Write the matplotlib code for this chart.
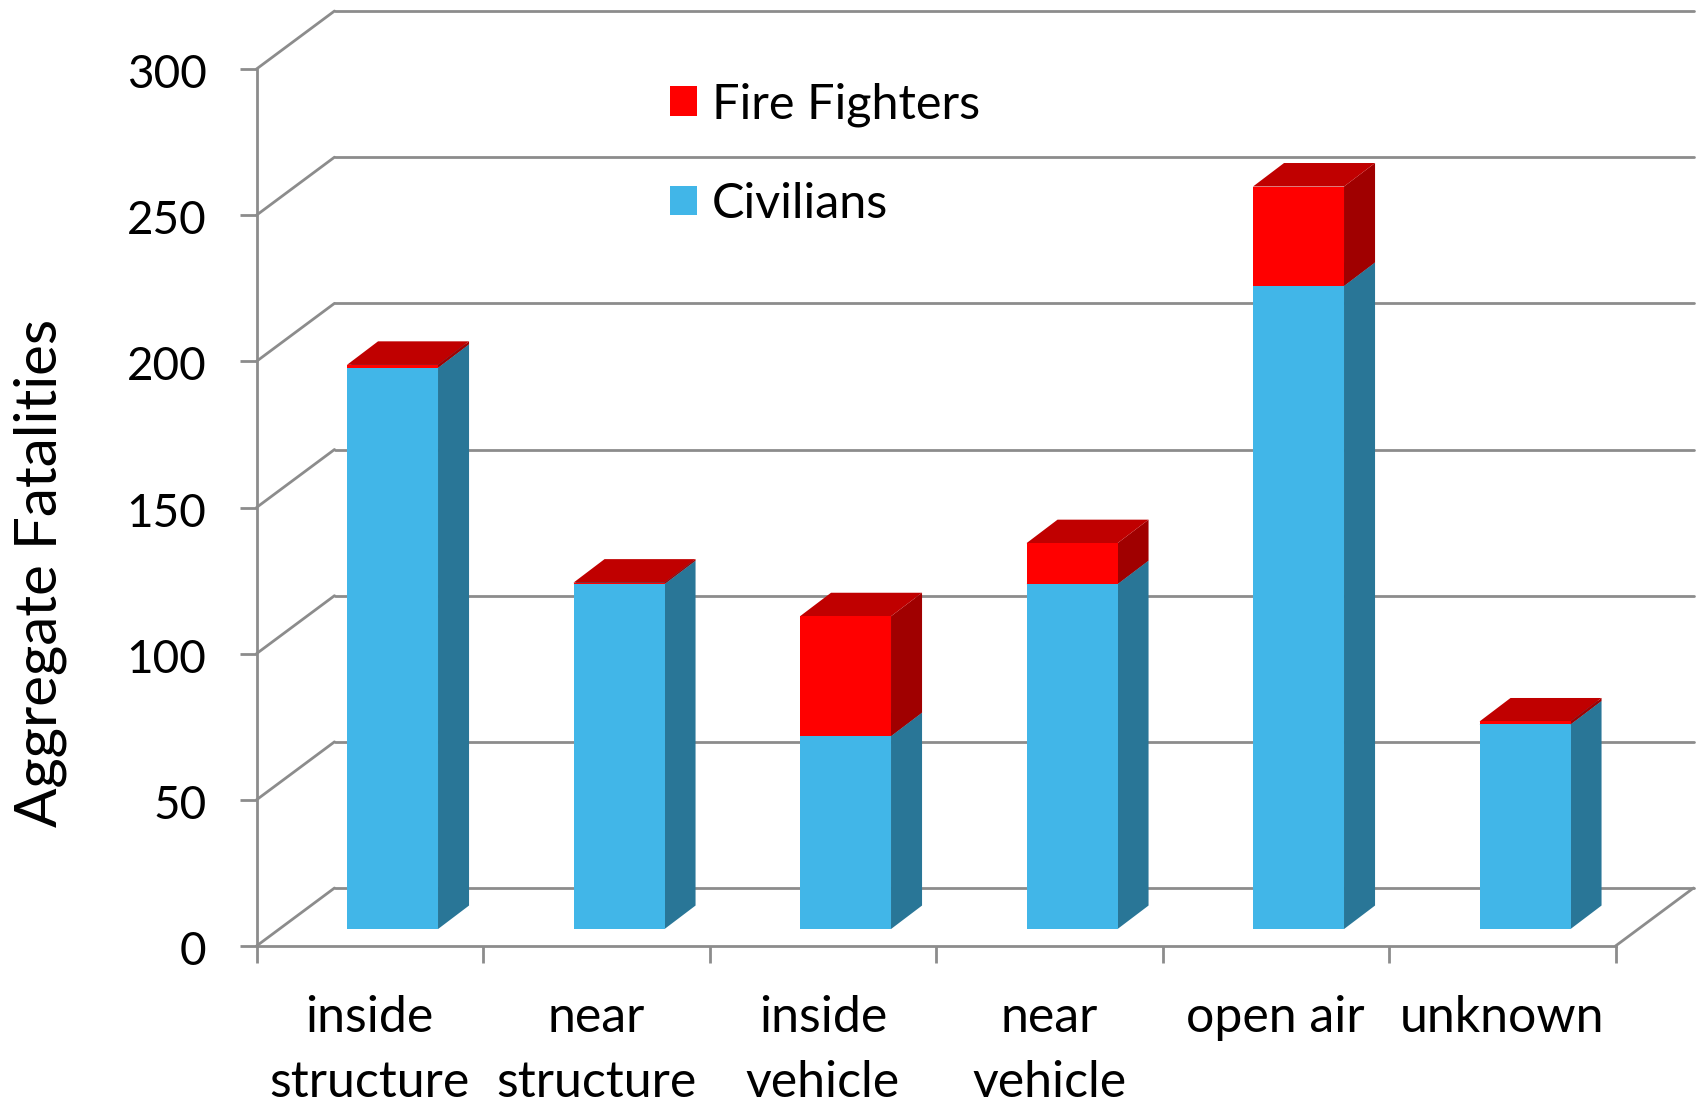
import matplotlib
matplotlib.use("Agg")
import matplotlib.pyplot as plt
from matplotlib.patches import Polygon, Patch
from matplotlib.transforms import ScaledTranslation

plt.rcParams['font.family'] = ['Lato', 'DejaVu Sans']

categories = ["inside\nstructure", "near\nstructure", "inside\nvehicle", "near\nvehicle", "open air", "unknown"]
civilians = [192, 118, 66, 118, 220, 70]
fire_fighters = [1, 0.5, 41, 14, 34, 1]
y_ticks = [0, 50, 100, 150, 200, 250, 300]

BLUE = ('#41b6e8', '#297697', '#297697')
RED = ('#ff0000', '#a00000', '#c00000')
GRID = '#8c8c8c'

fig = plt.figure(figsize=(16.96, 11.02), dpi=100)
ax = fig.add_axes([256.5 / 1696, (1102 - 946) / 1102, 1359 / 1696, 877 / 1102])
ax.set_xlim(0, len(categories))
ax.set_ylim(0, 300)

# perspective offsets in data units
WALL_DX, WALL_DY = 0.3444, 19.84
BAR_DX, BAR_DY = 0.137, 8.04
BAR_X, BAR_W, LIFT = 0.3996, 0.4018, 5.8

# walls and floor
LW = 2.0
line = dict(color=GRID, lw=LW, clip_on=False, zorder=1, solid_capstyle='round')
n = len(categories)
for v in y_ticks:
    ax.plot([0, WALL_DX], [v, v + WALL_DY], **line)
    ax.plot([WALL_DX, n + WALL_DX], [v + WALL_DY] * 2, **line)
ax.plot([n, n + WALL_DX], [0, WALL_DY], **line)


def segment(i, lo, hi, colors, z):
    x0 = i + BAR_X
    x1 = x0 + BAR_W
    y0, y1 = lo + LIFT, hi + LIFT
    front, side, top = colors
    kw = dict(closed=True, clip_on=False, zorder=z, lw=0)
    ax.add_patch(Polygon([(x1, y0), (x1 + BAR_DX, y0 + BAR_DY), (x1 + BAR_DX, y1 + BAR_DY), (x1, y1)], fc=side, **kw))
    ax.add_patch(Polygon([(x0, y1), (x1, y1), (x1 + BAR_DX, y1 + BAR_DY), (x0 + BAR_DX, y1 + BAR_DY)], fc=top, **kw))
    ax.add_patch(Polygon([(x0, y0), (x1, y0), (x1, y1), (x0, y1)], fc=front, **kw))


for i, (c, f) in enumerate(zip(civilians, fire_fighters)):
    segment(i, 0, c, BLUE, 3)
    segment(i, c, c + f, RED, 4)

for s in ('top', 'right'):
    ax.spines[s].set_visible(False)
for s in ('left', 'bottom'):
    ax.spines[s].set_color(GRID)
    ax.spines[s].set_linewidth(LW)

ax.set_yticks(y_ticks)
ax.tick_params(axis='y', length=12, width=LW, color=GRID, labelsize=33, pad=24)
ax.set_xticks(range(n + 1))
ax.set_xticklabels([])
ax.tick_params(axis='x', which='major', length=12, width=LW, color=GRID)
ax.set_xticks([i + 0.5 for i in range(n)], minor=True)
ax.set_xticklabels(categories, minor=True, fontsize=36, linespacing=1.5)
ax.tick_params(axis='x', which='minor', length=0, pad=35.5)

nudge = ScaledTranslation(0, -1.5 / 72, fig.dpi_scale_trans)
for lab in ax.get_yticklabels():
    lab.set_transform(lab.get_transform() + nudge)

ax.set_ylabel("Aggregate Fatalities", fontsize=42)
ax.yaxis.set_label_coords(-0.1395, 0.425)

leg = ax.legend(handles=[Patch(fc=RED[0], label="Fire Fighters"), Patch(fc=BLUE[0], label="Civilians")],
                frameon=False, fontsize=35, handlelength=0.56, handleheight=0.56,
                handletextpad=0.31, labelspacing=1.135, loc='upper left',
                bbox_to_anchor=(0.304, 0.985), borderpad=0, borderaxespad=0)

fig.savefig("out.png", dpi=100)
